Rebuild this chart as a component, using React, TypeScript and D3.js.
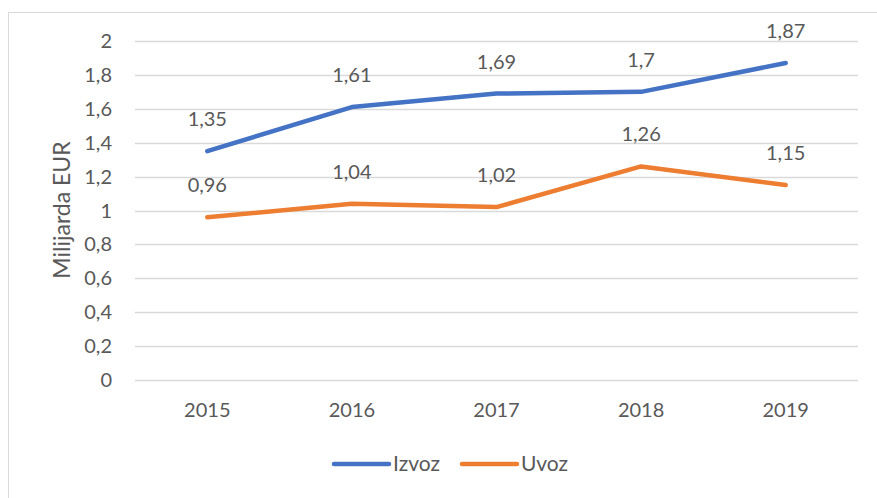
import React from 'react';
import * as d3 from 'd3';

const years = ['2015', '2016', '2017', '2018', '2019'];
const izvoz = [1.35, 1.61, 1.69, 1.7, 1.87];
const uvoz = [0.96, 1.04, 1.02, 1.26, 1.15];
const yTicks = [0, 0.2, 0.4, 0.6, 0.8, 1, 1.2, 1.4, 1.6, 1.8, 2];

const seriesList = [
  { name: 'Izvoz', values: izvoz, color: '#4472C4' },
  { name: 'Uvoz', values: uvoz, color: '#ED7D31' },
];

const width = 877;
const height = 498;
const plot = { left: 135, right: 858, top: 41, bottom: 380 };
const textColor = '#595959';
const font = 'Lato, "Open Sans", sans-serif';

const fmt = (v: number) => String(v).replace('.', ',');

const App: React.FC = () => {
  const svgRef = React.useRef<SVGSVGElement>(null);

  React.useEffect(() => {
    const svg = d3.select(svgRef.current);
    svg.selectAll('*').remove();

    const xScale = d3.scaleBand().domain(years).range([plot.left, plot.right]);
    const yScale = d3.scaleLinear().domain([0, 2]).range([plot.bottom, plot.top]);
    const xPos = (y: string) => (xScale(y) as number) + xScale.bandwidth() / 2;

    // chart frame
    svg.append('rect')
      .attr('x', 8.5).attr('y', 12.5)
      .attr('width', width).attr('height', height)
      .attr('fill', 'none').attr('stroke', '#d9d9d9');

    // gridlines
    svg.append('g')
      .selectAll('line')
      .data(yTicks)
      .join('line')
        .attr('x1', plot.left).attr('x2', plot.right)
        .attr('y1', d => Math.round(yScale(d)) + 0.5)
        .attr('y2', d => Math.round(yScale(d)) + 0.5)
        .attr('stroke', '#d9d9d9').attr('stroke-width', 1.3);

    // y tick labels
    svg.append('g')
      .selectAll('text')
      .data(yTicks)
      .join('text')
        .attr('x', 112)
        .attr('y', d => yScale(d))
        .attr('dy', '0.35em')
        .attr('text-anchor', 'end')
        .text(d => fmt(d));

    // x tick labels
    svg.append('g')
      .selectAll('text')
      .data(years)
      .join('text')
        .attr('x', d => xPos(d))
        .attr('y', 417)
        .attr('text-anchor', 'middle')
        .text(d => d);

    // y axis title
    svg.append('text')
      .attr('transform', `translate(70, 210) rotate(-90)`)
      .attr('text-anchor', 'middle')
      .attr('font-size', 23)
      .text('Milijarda EUR');

    const line = d3.line<number>()
      .x((_, i) => xPos(years[i]))
      .y(d => yScale(d));

    seriesList.forEach(s => {
      svg.append('path')
        .datum(s.values)
        .attr('d', line)
        .attr('fill', 'none')
        .attr('stroke', s.color)
        .attr('stroke-width', 4.5)
        .attr('stroke-linecap', 'round')
        .attr('stroke-linejoin', 'round');

      svg.append('g')
        .selectAll('text')
        .data(s.values)
        .join('text')
          .attr('x', (_, i) => xPos(years[i]))
          .attr('y', d => yScale(d) - 25)
          .attr('text-anchor', 'middle')
          .text(d => fmt(d));
    });

    // legend
    const legend = svg.append('g').attr('transform', 'translate(0, 464)');
    const legendX = [334, 462];
    seriesList.forEach((s, i) => {
      legend.append('line')
        .attr('x1', legendX[i]).attr('x2', legendX[i] + 55)
        .attr('y1', 0).attr('y2', 0)
        .attr('stroke', s.color).attr('stroke-width', 4.5)
        .attr('stroke-linecap', 'round');
      legend.append('text')
        .attr('x', legendX[i] + 59)
        .attr('y', 0)
        .attr('dy', '0.35em')
        .attr('font-size', 21)
        .text(s.name);
    });
  }, []);

  return (
    <svg
      ref={svgRef}
      width={width}
      height={height}
      style={{ position: 'absolute', left: 0, top: 0, background: '#fff' }}
      fontFamily={font}
      fontSize={20}
      fill={textColor}
    />
  );
};

export default App;
